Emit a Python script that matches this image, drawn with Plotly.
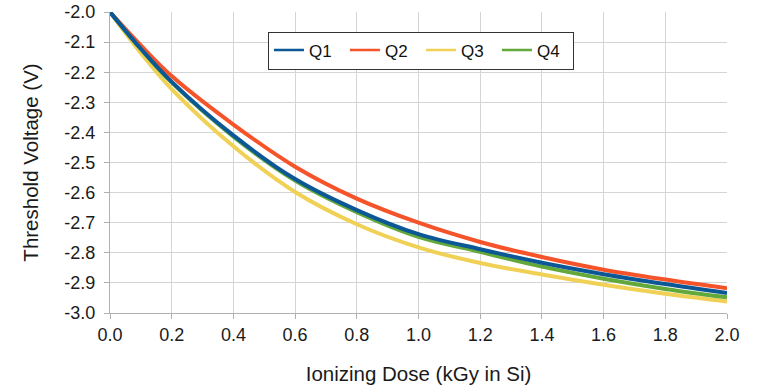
import plotly.graph_objects as go

dose = [0.0, 0.1, 0.2, 0.4, 0.6, 0.8, 1.0, 1.2, 1.4, 1.6, 1.8, 2.0]
q1 = [-2.000, -2.122, -2.232, -2.410, -2.555, -2.658, -2.738, -2.788, -2.833, -2.871, -2.904, -2.934]
q2 = [-2.000, -2.111, -2.213, -2.374, -2.514, -2.620, -2.700, -2.764, -2.814, -2.856, -2.889, -2.918]
q3 = [-2.000, -2.136, -2.256, -2.446, -2.598, -2.705, -2.782, -2.834, -2.872, -2.906, -2.936, -2.962]
q4 = [-2.000, -2.123, -2.234, -2.414, -2.560, -2.665, -2.747, -2.797, -2.846, -2.886, -2.920, -2.948]

series = [
    ("Q2", q2, "#f5532a", 2),
    ("Q3", q3, "#f0d155", 3),
    ("Q4", q4, "#62a83a", 4),
    ("Q1", q1, "#0c5796", 1),
]

y_ticks = [-2.0, -2.1, -2.2, -2.3, -2.4, -2.5, -2.6, -2.7, -2.8, -2.9, -3.0]
x_ticks = [0.0, 0.2, 0.4, 0.6, 0.8, 1.0, 1.2, 1.4, 1.6, 1.8, 2.0]

fig = go.Figure()
for name, ys, color, rank in series:
    fig.add_trace(go.Scatter(
        x=dose, y=ys, name=name, mode="lines",
        line=dict(color=color, width=4, shape="spline", smoothing=1.0),
        showlegend=False, hoverinfo="x+y+name",
    ))
# thin legend samples (legend-only entries)
for name, ys, color, rank in series:
    fig.add_trace(go.Scatter(
        x=[None], y=[None], name=name, mode="lines",
        line=dict(color=color, width=2.5),
        legendrank=rank, showlegend=True,
    ))

font = "Liberation Sans, Arial, Helvetica, sans-serif"
fig.update_layout(
    width=758, height=386,
    margin=dict(l=110, r=31, t=12, b=73),
    paper_bgcolor="white", plot_bgcolor="white",
    font=dict(family=font, size=18, color="#1a1a1a"),
    showlegend=True,
    legend=dict(
        orientation="h", x=0.256, y=0.935, xanchor="left", yanchor="top",
        bgcolor="white", bordercolor="#333333", borderwidth=1,
        font=dict(size=17, family=font, color="#111111"),
        entrywidth=31, entrywidthmode="pixels",
        itemwidth=30, tracegroupgap=0,
    ),
    xaxis=dict(
        range=[0, 2.0], tickvals=x_ticks,
        ticktext=[f"{v:.1f}" for v in x_ticks],
        showgrid=True, gridcolor="#d4d4d4", gridwidth=1,
        ticks="outside", ticklen=5, tickcolor="#b0b0b0",
        showline=True, linecolor="#b0b0b0", linewidth=1,
        zeroline=False, ticklabelstandoff=0, automargin=False,
        tickfont=dict(size=18),
        title=dict(text="Ionizing Dose (kGy in Si)", font=dict(size=20.5), standoff=23),
    ),
    yaxis=dict(
        range=[-3.0, -2.0], tickvals=y_ticks,
        ticktext=[f"{v:.1f}" for v in y_ticks],
        showgrid=True, gridcolor="#d4d4d4", gridwidth=1,
        ticks="outside", ticklen=5, tickcolor="#b0b0b0",
        showline=True, linecolor="#b0b0b0", linewidth=1,
        zeroline=False, ticklabelstandoff=5, automargin=False,
        tickfont=dict(size=18),
        title=dict(text="Threshold Voltage (V)", font=dict(size=20.5), standoff=20),
    ),
)

fig.write_html("out.html")
